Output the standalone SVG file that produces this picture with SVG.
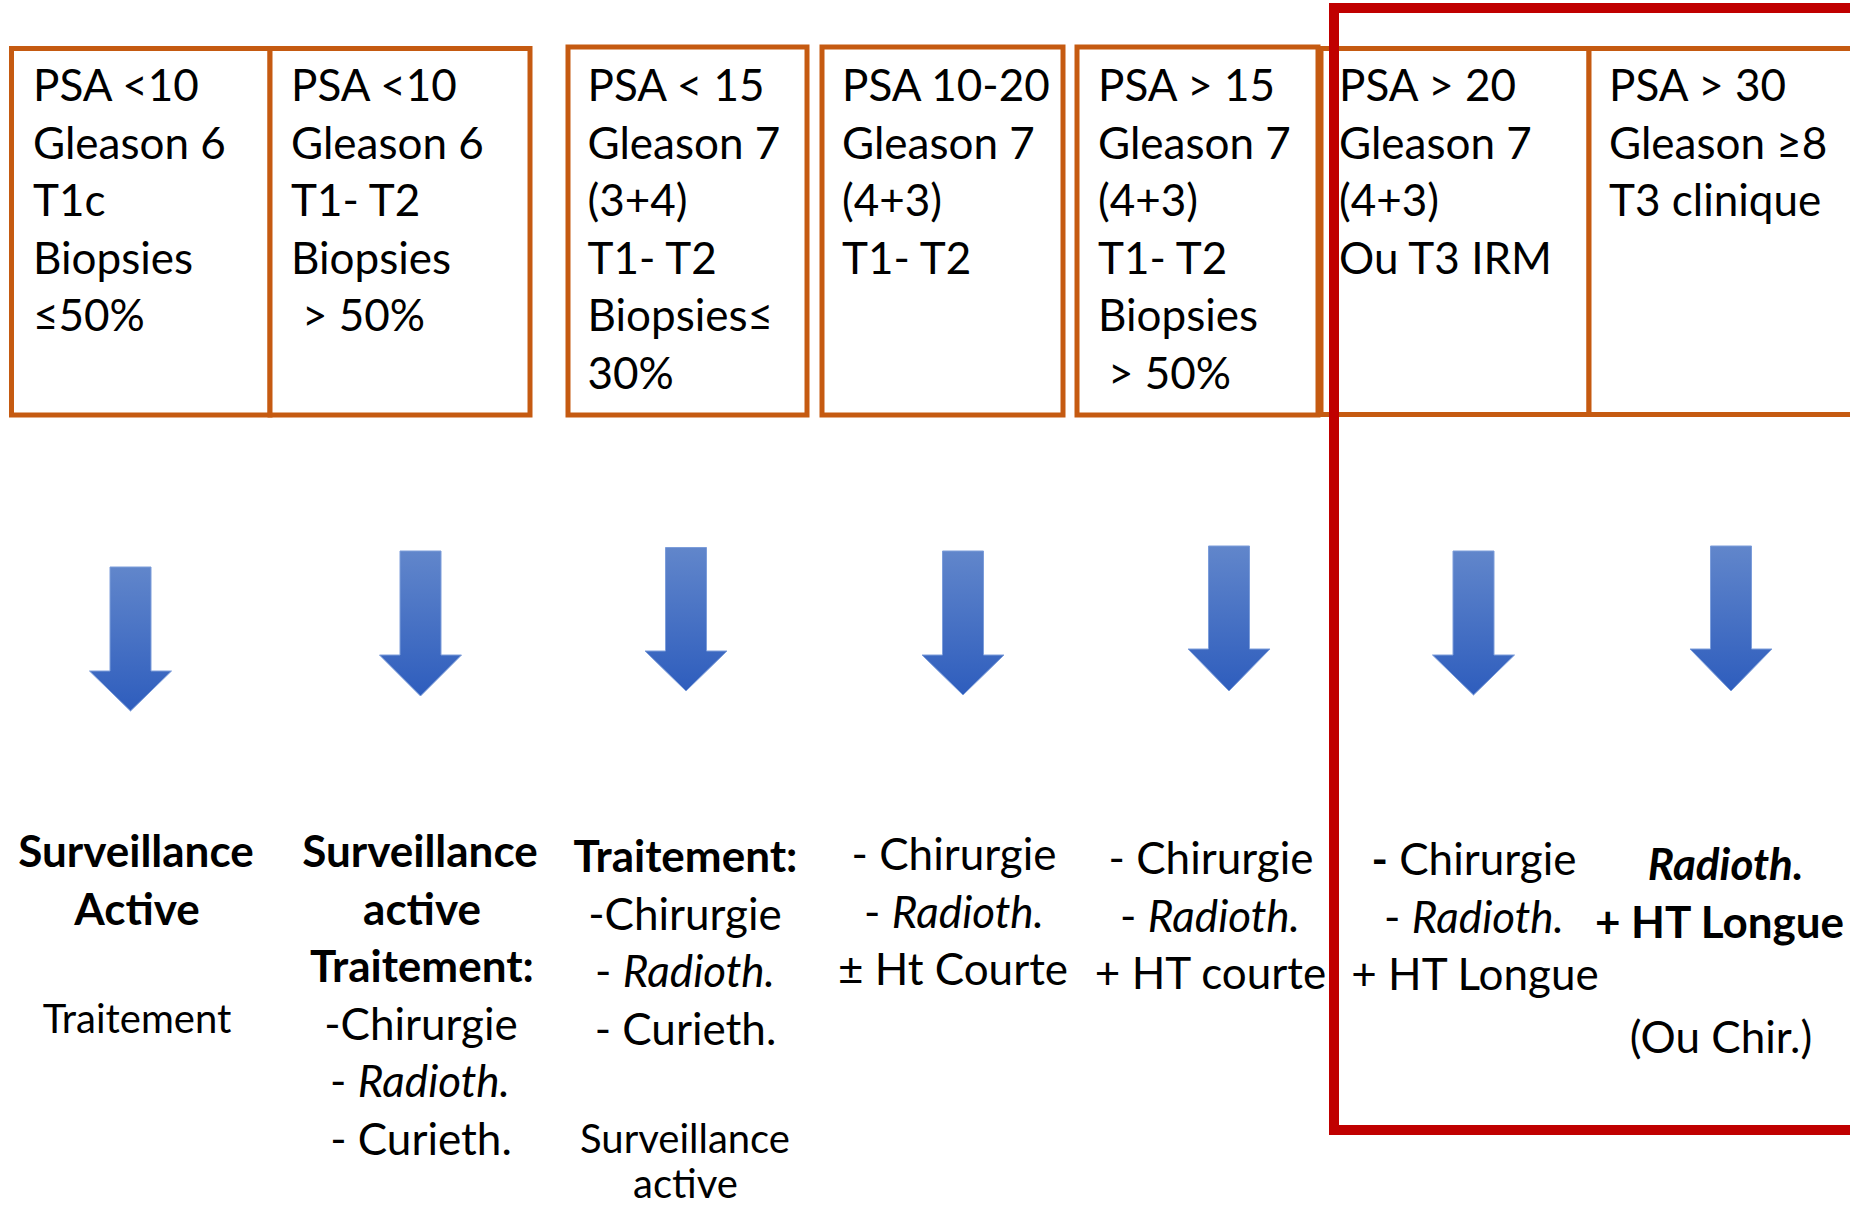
<svg xmlns="http://www.w3.org/2000/svg" width="1850" height="1208" viewBox="0 0 1850 1208">
<defs>
<linearGradient id="blueGrad" x1="0" y1="0" x2="0" y2="1">
<stop offset="0" stop-color="#6186CB"/>
<stop offset="1" stop-color="#2E5DBD"/>
</linearGradient>
<style>
.box{fill:#FFFFFF;stroke:#C55A11;stroke-width:5}
.t{font-family:"Lato","Liberation Sans",sans-serif;font-size:44px;fill:#000000}
.s{font-size:40px}
.b{font-weight:bold}
.i{font-style:italic}
.c{text-anchor:middle}
.arrow{fill:url(#blueGrad);stroke:#7C9DDA;stroke-width:1}
.frame{fill:none;stroke:#C00000;stroke-width:10}
</style>
</defs>
<rect width="1850" height="1208" fill="#FFFFFF"/>

<g id="criteria-1">
<rect class="box" x="11.5" y="48.5" width="258.5" height="366.5"/>
<text class="t" x="33" y="101"><tspan x="33">PSA &lt;10</tspan><tspan x="33" dy="57.5">Gleason 6</tspan><tspan x="33" dy="57.5">T1c</tspan><tspan x="33" dy="57.5">Biopsies</tspan><tspan x="33" dy="57.5">≤50%</tspan></text>
</g>
<g id="criteria-2">
<rect class="box" x="270" y="48.5" width="260" height="366.5"/>
<text class="t" x="291" y="101"><tspan x="291">PSA &lt;10</tspan><tspan x="291" dy="57.5">Gleason 6</tspan><tspan x="291" dy="57.5">T1- T2</tspan><tspan x="291" dy="57.5">Biopsies</tspan><tspan x="302" dy="57.5">&gt; 50%</tspan></text>
</g>
<g id="criteria-3">
<rect class="box" x="568" y="47" width="239" height="368"/>
<text class="t" x="587.5" y="101"><tspan x="587.5">PSA &lt; 15</tspan><tspan x="587.5" dy="57.5">Gleason 7</tspan><tspan x="587.5" dy="57.5">(3+4)</tspan><tspan x="587.5" dy="57.5">T1- T2</tspan><tspan x="587.5" dy="57.5">Biopsies≤</tspan><tspan x="587.5" dy="57.5">30%</tspan></text>
</g>
<g id="criteria-4">
<rect class="box" x="822" y="47" width="241" height="368"/>
<text class="t" x="842" y="101"><tspan x="842">PSA 10-20</tspan><tspan x="842" dy="57.5">Gleason 7</tspan><tspan x="842" dy="57.5">(4+3)</tspan><tspan x="842" dy="57.5">T1- T2</tspan></text>
</g>
<g id="criteria-5">
<rect class="box" x="1077" y="47" width="241" height="368"/>
<text class="t" x="1098" y="101"><tspan x="1098">PSA &gt; 15</tspan><tspan x="1098" dy="57.5">Gleason 7</tspan><tspan x="1098" dy="57.5">(4+3)</tspan><tspan x="1098" dy="57.5">T1- T2</tspan><tspan x="1098" dy="57.5">Biopsies</tspan><tspan x="1108" dy="57.5">&gt; 50%</tspan></text>
</g>
<g id="criteria-6">
<rect class="box" x="1321" y="48.5" width="268" height="366"/>
<text class="t" x="1339" y="101"><tspan x="1339">PSA &gt; 20</tspan><tspan x="1339" dy="57.5">Gleason 7</tspan><tspan x="1339" dy="57.5">(4+3)</tspan><tspan x="1339" dy="57.5">Ou T3 IRM</tspan></text>
</g>
<g id="criteria-7">
<rect class="box" x="1589" y="48.5" width="280" height="366"/>
<text class="t" x="1609" y="101"><tspan x="1609">PSA &gt; 30</tspan><tspan x="1609" dy="57.5">Gleason ≥8</tspan><tspan x="1609" dy="57.5">T3 clinique</tspan></text>
</g>

<g id="connectors">
<path class="arrow" d="M110,567 H151 V671 H171.5 L130.5,711 L89.5,671 H110 Z"/>
<path class="arrow" d="M400,551 H441 V655 H461.5 L420.5,696 L379.5,655 H400 Z"/>
<path class="arrow" d="M665.5,547.5 H706.5 V651 H727 L686,691 L645,651 H665.5 Z"/>
<path class="arrow" d="M942.5,551 H983.5 V655 H1004 L963,695 L922,655 H942.5 Z"/>
<path class="arrow" d="M1208.5,546 H1249.5 V649 H1270 L1229,691 L1188,649 H1208.5 Z"/>
<path class="arrow" d="M1453,551 H1494 V655 H1514.5 L1473.5,695 L1432.5,655 H1453 Z"/>
<path class="arrow" d="M1710.5,546 H1751.5 V649 H1772 L1731,691 L1690,649 H1710.5 Z"/>
</g>

<g id="outcome-1">
<text class="t c b" x="136" y="867"><tspan x="136">Surveillance</tspan><tspan x="137" dy="57.5">Active</tspan></text>
<text class="t c s" x="137" y="1033">Traitement</text>
</g>
<g id="outcome-2">
<text class="t c" x="421" y="867"><tspan class="b" x="420">Surveillance</tspan><tspan class="b" x="422" dy="57.5">active</tspan><tspan class="b" x="422" dy="57.5">Traitement:</tspan><tspan x="421" dy="57.5">-Chirurgie</tspan><tspan x="420" dy="57.5">- <tspan class="i">Radioth.</tspan></tspan><tspan x="421" dy="57.5">- Curieth.</tspan></text>
</g>
<g id="outcome-3">
<text class="t c" x="685.5" y="872"><tspan class="b" x="685.5">Traitement:</tspan><tspan x="685" dy="57.5">-Chirurgie</tspan><tspan x="685" dy="57.5">- <tspan class="i">Radioth.</tspan></tspan><tspan x="685.5" dy="57.5">- Curieth.</tspan></text>
<text class="t c s" x="685" y="1153"><tspan x="685">Surveillance</tspan><tspan x="685.5" dy="45">active</tspan></text>
</g>
<g id="outcome-4">
<text class="t c" x="954" y="870"><tspan x="954">- Chirurgie</tspan><tspan x="954" dy="57.5">- <tspan class="i">Radioth.</tspan></tspan><tspan x="953" dy="57.5">± Ht Courte</tspan></text>
</g>
<g id="outcome-5">
<text class="t c" x="1211" y="874"><tspan x="1211">- Chirurgie</tspan><tspan x="1210" dy="57.5">- <tspan class="i">Radioth.</tspan></tspan><tspan x="1210.5" dy="57.5">+ HT courte</tspan></text>
</g>
<g id="outcome-6">
<text class="t c" x="1474" y="875"><tspan x="1474"><tspan class="b">-</tspan> Chirurgie</tspan><tspan x="1474" dy="57.5">- <tspan class="i">Radioth.</tspan></tspan><tspan x="1475" dy="57.5">+ HT Longue</tspan></text>
</g>
<g id="outcome-7">
<text class="t c b" x="1725.5" y="880"><tspan class="i" x="1725.5">Radioth.</tspan><tspan x="1719.5" dy="57.5">+ HT Longue</tspan></text>
<text class="t c" x="1721" y="1053">(Ou Chir.)</text>
</g>

<g id="highlight-frame">
<path class="frame" d="M1860,8 H1334 V1130 H1860"/>
</g>
</svg>
